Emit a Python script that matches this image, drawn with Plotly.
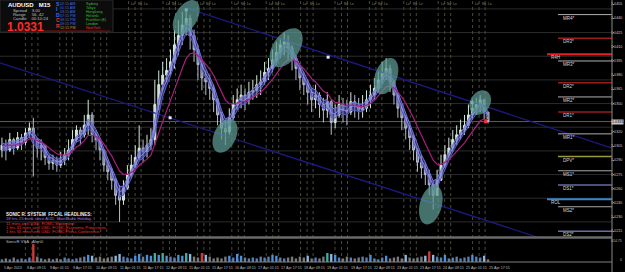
import math
import pandas as pd
import plotly.graph_objects as go

# ---------------- data ----------------
close = [
    1.0306, 1.0301, 1.0312, 1.0303, 1.0314, 1.0309, 1.0319, 1.0324, 1.0312, 1.0303,
    1.0306, 1.0293, 1.0287, 1.0290, 1.0285, 1.0290, 1.0296, 1.0301, 1.0312, 1.0322,
    1.0317, 1.0327, 1.0338, 1.0317, 1.0312, 1.0301, 1.0285, 1.0278, 1.0269, 1.0253,
    1.0248, 1.0261, 1.0275, 1.0285, 1.0293, 1.0303, 1.0299, 1.0306, 1.0312, 1.0349,
    1.0370, 1.0380, 1.0385, 1.0394, 1.0412, 1.0422, 1.0433, 1.0440, 1.0422, 1.0407,
    1.0391, 1.0377, 1.0373, 1.0366, 1.0354, 1.0338, 1.0324, 1.0320, 1.0335, 1.0349,
    1.0354, 1.0359, 1.0354, 1.0362, 1.0364, 1.0370, 1.0373, 1.0383, 1.0387, 1.0396,
    1.0404, 1.0412, 1.0415, 1.0409, 1.0398, 1.0387, 1.0377, 1.0370, 1.0362, 1.0354,
    1.0359, 1.0349, 1.0343, 1.0352, 1.0330, 1.0338, 1.0349, 1.0343, 1.0341, 1.0352,
    1.0348, 1.0343, 1.0345, 1.0354, 1.0359, 1.0366, 1.0375, 1.0383, 1.0387, 1.0373,
    1.0359, 1.0345, 1.0335, 1.0324, 1.0314, 1.0301, 1.0288, 1.0282, 1.0275, 1.0264,
    1.0253, 1.0269, 1.0285, 1.0296, 1.0303, 1.0312, 1.0317, 1.0322, 1.0327, 1.0338,
    1.0345, 1.0349, 1.0354, 1.0341, 1.0331,
]
high = [
    1.0314, 1.0312, 1.0319, 1.0314, 1.0320, 1.0318, 1.0324, 1.0330, 1.0335, 1.0314,
    1.0312, 1.0306, 1.0296, 1.0296, 1.0294, 1.0299, 1.0303, 1.0312, 1.0322, 1.0327,
    1.0325, 1.0338, 1.0354, 1.0341, 1.0322, 1.0314, 1.0301, 1.0290, 1.0282, 1.0271,
    1.0264, 1.0269, 1.0285, 1.0296, 1.0306, 1.0327, 1.0312, 1.0317, 1.0324, 1.0375,
    1.0385, 1.0394, 1.0398, 1.0407, 1.0428, 1.0438, 1.0447, 1.0451, 1.0444, 1.0428,
    1.0412, 1.0396, 1.0385, 1.0380, 1.0370, 1.0356, 1.0341, 1.0333, 1.0345, 1.0359,
    1.0366, 1.0370, 1.0366, 1.0373, 1.0375, 1.0380, 1.0385, 1.0394, 1.0398, 1.0407,
    1.0415, 1.0419, 1.0425, 1.0422, 1.0412, 1.0401, 1.0391, 1.0383, 1.0375, 1.0366,
    1.0370, 1.0362, 1.0356, 1.0362, 1.0354, 1.0349, 1.0359, 1.0356, 1.0354, 1.0362,
    1.0359, 1.0356, 1.0359, 1.0364, 1.0370, 1.0377, 1.0385, 1.0394, 1.0398, 1.0391,
    1.0375, 1.0362, 1.0349, 1.0338, 1.0327, 1.0317, 1.0303, 1.0296, 1.0288, 1.0280,
    1.0269, 1.0280, 1.0296, 1.0306, 1.0314, 1.0322, 1.0327, 1.0333, 1.0338, 1.0349,
    1.0354, 1.0356, 1.0359, 1.0354, 1.0341,
]
low = [
    1.0293, 1.0290, 1.0299, 1.0296, 1.0301, 1.0301, 1.0306, 1.0314, 1.0273, 1.0293,
    1.0290, 1.0285, 1.0280, 1.0280, 1.0278, 1.0282, 1.0285, 1.0290, 1.0301, 1.0309,
    1.0306, 1.0314, 1.0317, 1.0309, 1.0301, 1.0290, 1.0278, 1.0269, 1.0259, 1.0243,
    1.0225, 1.0243, 1.0259, 1.0271, 1.0282, 1.0290, 1.0288, 1.0293, 1.0301, 1.0306,
    1.0343, 1.0364, 1.0373, 1.0380, 1.0387, 1.0401, 1.0412, 1.0422, 1.0407, 1.0394,
    1.0375, 1.0364, 1.0359, 1.0354, 1.0341, 1.0327, 1.0312, 1.0306, 1.0317, 1.0333,
    1.0343, 1.0345, 1.0343, 1.0349, 1.0354, 1.0356, 1.0359, 1.0370, 1.0375, 1.0383,
    1.0391, 1.0398, 1.0401, 1.0396, 1.0385, 1.0375, 1.0364, 1.0359, 1.0349, 1.0341,
    1.0345, 1.0335, 1.0330, 1.0335, 1.0317, 1.0324, 1.0335, 1.0330, 1.0327, 1.0338,
    1.0335, 1.0333, 1.0335, 1.0341, 1.0345, 1.0354, 1.0362, 1.0370, 1.0375, 1.0362,
    1.0349, 1.0335, 1.0322, 1.0312, 1.0301, 1.0290, 1.0278, 1.0271, 1.0264, 1.0253,
    1.0238, 1.0253, 1.0269, 1.0282, 1.0293, 1.0299, 1.0306, 1.0312, 1.0317, 1.0324,
    1.0333, 1.0338, 1.0341, 1.0333, 1.0329,
]
first_open = 1.0301
volume = [
    75, 100, 75, 125, 75, 100, 75, 125, 500, 150,
    100, 75, 100, 75, 100, 75, 125, 100, 75, 100,
    125, 150, 200, 175, 125, 150, 100, 125, 150, 175,
    225, 150, 125, 100, 175, 225, 150, 200, 175, 250,
    200, 250, 175, 150, 125, 200, 175, 250, 225, 150,
    125, 250, 200, 150, 100, 125, 100, 150, 175, 125,
    225, 175, 125, 100, 125, 100, 150, 125, 150, 200,
    175, 125, 100, 125, 150, 100, 150, 125, 175, 100,
    125, 100, 150, 250, 225, 200, 125, 100, 150, 125,
    100, 125, 150, 125, 200, 100, 75, 125, 175, 100,
    125, 150, 100, 200, 125, 100, 125, 150, 175, 300,
    200, 150, 125, 200, 100, 125, 150, 100, 125, 150,
    200, 150, 125, 175, 75,
]
current_price = 1.0331
price_ticks = [1.0215, 1.0230, 1.0245, 1.0260, 1.0275, 1.0290, 1.0305, 1.0320,
               1.0350, 1.0365, 1.0380, 1.0395, 1.0410, 1.0425, 1.0440, 1.0455]
round_levels = [1.0225, 1.0250, 1.0275, 1.0300, 1.0325, 1.0350, 1.0375, 1.0400, 1.0425, 1.0450]
level_names = ["MR4*", "DR3*", "R4H", "MR3*", "DR2*", "MR2*", "DR1*", "MR1*",
               "DPV*", "MS1*", "DS1*", "ROL", "MS2*", "DS2*"]
level_prices = [1.0444, 1.0419, 1.0402, 1.0395, 1.0372, 1.0357, 1.0341, 1.0318,
                1.0294, 1.0279, 1.0264, 1.0249, 1.0241, 1.0215]
channel_upper_x = [47, 155.6]
channel_upper_y = [1.0451, 1.0303]
channel_lower_x = [-0.5, 136.5]
channel_lower_y = [1.0393, 1.0209]
zone_x = [47.0, 56.9, 72.5, 98.0, 109.4, 122.0]
zone_y = [1.0441, 1.0316, 1.0409, 1.0379, 1.0243, 1.0351]
swing_x = [47, 42.9, 83.2, 119.9]
swing_y = [1.0449, 1.0335, 1.0399, 1.0351]
volume_max_label = "614.75"
time_labels = ["5 Apr 2013", "8 Apr 09:15", "9 Apr 01:15", "9 Apr 17:15", "10 Apr 09:15",
               "11 Apr 01:15", "11 Apr 17:15", "12 Apr 09:15", "15 Apr 01:15", "15 Apr 17:15",
               "16 Apr 09:15", "17 Apr 01:15", "17 Apr 17:15", "18 Apr 09:15", "19 Apr 01:15",
               "19 Apr 17:15", "22 Apr 09:15", "23 Apr 01:15", "23 Apr 17:15", "24 Apr 09:15",
               "25 Apr 01:15", "25 Apr 17:15"]
session_times = ["02:15 AM", "01:15 AM", "03:15 AM", "07:15 PM", "08:15 PM", "09:15 PM", "12:15 PM"]
session_names = ["Sydney", "Tokyo", "Hongkong", "Helsinki", "Frankfurt (E)", "London", "NewYork"]
headlines = ["18 hrs 15 mins since AUD  Start Bank Holiday",
             "11 mins until USD  FOMC Statement",
             "1 hrs 41 mins until USD  FOMC Economic Projections",
             "1 hrs 55 mins until USD  FOMC Press Conference"]

# ---------------- geometry helpers ----------------
W, H = 625, 272
PW, PH = 612, 262          # plot area size (px)
PX = 3.92                  # px per candle
X0, X1 = -0.5, PW / PX - 0.5
P_TOP = 1.04594
DP = 0.00010563            # price per px
P_BOT = P_TOP - 237 * DP
FONT = "Liberation Sans"


def px_to_idx(px):
    return px / PX - 0.5


def idx_to_px(i):
    return (i + 0.5) * PX


def paper(x, y):
    return x / PW, 1 - y / PH


N = len(close)
X = list(range(N))
opens = [first_open] + close[:-1]

s_c = pd.Series(close)
s_h = pd.Series(high)
s_l = pd.Series(low)
rib_mid = s_c.ewm(span=3, adjust=False).mean()
rib_hi = ((s_h + 2 * s_c) / 3).ewm(span=3, adjust=False).mean()
rib_lo = ((s_l + 2 * s_c) / 3).ewm(span=3, adjust=False).mean()
slow = s_c.ewm(span=9, adjust=False).mean()

fig = go.Figure()

# channel lines
for cx, cy in ((channel_upper_x, channel_upper_y), (channel_lower_x, channel_lower_y)):
    fig.add_trace(go.Scatter(x=cx, y=cy, mode="lines", line=dict(color="#1a1a80", width=1.3),
                             hoverinfo="skip"))

# dragon ribbon
fig.add_trace(go.Scatter(x=X, y=rib_lo, mode="lines", line=dict(color="#5c5cc8", width=1),
                         hoverinfo="skip"))
fig.add_trace(go.Scatter(x=X, y=rib_hi, mode="lines", fill="tonexty",
                         fillcolor="rgba(80,80,190,0.55)", line=dict(color="#7474dc", width=1),
                         hoverinfo="skip"))
fig.add_trace(go.Scatter(x=X, y=rib_mid, mode="lines", line=dict(color="#9c9cf0", width=0.8),
                         hoverinfo="skip"))

# candles
fig.add_trace(go.Candlestick(
    x=X, open=opens, high=high, low=low, close=close, whiskerwidth=0,
    increasing=dict(line=dict(color="#d4e8da", width=1), fillcolor="#c4e0cc"),
    decreasing=dict(line=dict(color="#b4bccc", width=1), fillcolor="#6e7686"),
    hoverinfo="skip"))

# slow trend line
fig.add_trace(go.Scatter(x=X, y=slow, mode="lines", line=dict(color="#a8207a", width=1.2),
                         hoverinfo="skip"))

# swing markers
fig.add_trace(go.Scatter(x=swing_x, y=swing_y, mode="markers",
                         marker=dict(symbol="square", size=3, color="#e8e8ff"), hoverinfo="skip"))
fig.add_trace(go.Scatter(x=[N - 1.6], y=[current_price], mode="markers",
                         marker=dict(symbol="square", size=3, color="#ff3030"), hoverinfo="skip"))

# volume
vcols = []
for i in range(N):
    up = close[i] >= opens[i]
    if volume[i] >= 250:
        vcols.append("#d03a3a" if not up else "#3ab0a0")
    elif volume[i] >= 175:
        vcols.append("#4f8fd8" if up else "#8fb8d8")
    else:
        vcols.append("#5a7fb0" if up else "#7a7a7a")
fig.add_trace(go.Bar(x=X, y=volume, yaxis="y2", marker=dict(color=vcols, line=dict(width=0)),
                     width=0.6, hoverinfo="skip"))

shapes = []
# round-number grid
for lv in round_levels:
    shapes.append(dict(type="line", xref="paper", x0=0, x1=1, yref="y", y0=lv, y1=lv,
                       line=dict(color="#2c2c2c", width=1), layer="below"))
# bid line
shapes.append(dict(type="line", xref="paper", x0=0, x1=1, yref="y", y0=current_price,
                   y1=current_price, line=dict(color="#5c5c5c", width=1), layer="below"))
# session separators
day_px = 34.4
g = 25.4
while g < 490:
    for off in (0, 6.5, 12.5):
        xx = px_to_idx(g + off)
        shapes.append(dict(type="line", xref="x", x0=xx, x1=xx, yref="paper", y0=0, y1=1,
                           line=dict(color="#4a4a34", width=1, dash="dot"), layer="below"))
    g += day_px

# level lines
level_style = {"MR": ("#b0b0b0", 1), "MS": ("#a8a8a8", 1), "DR": ("#9a1c1c", 1.5),
               "R4": ("#e62020", 2), "DP": ("#9a9a3c", 1.5), "DS": ("#6a6aa8", 1.5),
               "RO": ("#3a86c8", 2)}
for name, lv in zip(level_names, level_prices):
    col, wd = level_style[name[:2]]
    start = px_to_idx(547 if name in ("R4H", "ROL") else 558)
    shapes.append(dict(type="line", xref="x", x0=start, x1=X1, yref="y", y0=lv, y1=lv,
                       line=dict(color=col, width=wd)))

# zones (tilted ellipses)
zone_axes = [(19, 11, 30), (18, 11, 25), (22, 13, 35), (19, 11, 20), (20, 11, 15), (13, 10, 30)]
for (zx, zy), (a, b, ang) in zip(zip(zone_x, zone_y), zone_axes):
    cxp = idx_to_px(zx)
    cyp = (P_TOP - zy) / DP
    th = math.radians(ang)
    pts = []
    for k in range(49):
        t = 2 * math.pi * k / 48
        u, v = b * math.cos(t), a * math.sin(t)
        xp = cxp + u * math.cos(th) + v * math.sin(th)
        yp = cyp + u * math.sin(th) - v * math.cos(th)
        pts.append((px_to_idx(xp), P_TOP - yp * DP))
    path = "M " + " L ".join(f"{p[0]:.3f},{p[1]:.6f}" for p in pts) + " Z"
    shapes.append(dict(type="path", xref="x", yref="y", path=path,
                       fillcolor="rgba(92,152,146,0.74)", line=dict(width=0)))

# panel separators and frames
sep_y = 1 - 237.5 / PH
shapes.append(dict(type="line", xref="paper", x0=0, x1=1, yref="paper", y0=sep_y, y1=sep_y,
                   line=dict(color="#6a6a6a", width=2.5)))
shapes.append(dict(type="line", xref="paper", x0=0, x1=1, yref="paper", y0=0, y1=0,
                   line=dict(color="#808080", width=1)))
shapes.append(dict(type="line", xref="paper", x0=1, x1=1, yref="paper", y0=-10 / PH, y1=1,
                   line=dict(color="#8a8a8a", width=1)))
# info box
bx0, by0 = paper(0, 0)
bx1, by1 = paper(113, 32)
shapes.append(dict(type="rect", xref="paper", yref="paper", x0=bx0, x1=bx1, y0=by1, y1=by0,
                   fillcolor="#0c0c0c", line=dict(color="#2a2a2a", width=1)))
shapes.append(dict(type="line", xref="paper", yref="paper", x0=10 / PW, x1=110 / PW,
                   y0=1 - 31 / PH, y1=1 - 31 / PH, line=dict(color="#7a1010", width=1)))

ann = []


def text(x, y, s, size=4.5, color="#c0c0c0", bold=False, xanchor="left", bg=None):
    xx, yy = paper(x, y)
    d = dict(xref="paper", yref="paper", x=xx, y=yy, text=f"<b>{s}</b>" if bold else s,
             showarrow=False, xanchor=xanchor, yanchor="middle",
             font=dict(family=FONT, size=size, color=color))
    if bg:
        d.update(bgcolor=bg, borderpad=0)
    ann.append(d)


# price-axis labels, placed on the price scale inside the right strip
RIGHT = 624.4 / PW
for v in price_ticks:
    ann.append(dict(xref="paper", yref="y", x=RIGHT, y=v, text=f"{v:.4f}", showarrow=False,
                    xanchor="right", yanchor="middle",
                    font=dict(family=FONT, size=3.7, color="#c8c8c8")))
ann.append(dict(xref="paper", yref="y", x=RIGHT, y=current_price, text=f"{current_price:.4f}",
                showarrow=False, xanchor="right", yanchor="middle", bgcolor="#c8c8c8",
                borderpad=0, font=dict(family=FONT, size=3.7, color="#000000")))
ann.append(dict(xref="paper", yref="y2", x=RIGHT, y=600, text=volume_max_label, showarrow=False,
                xanchor="right", yanchor="middle", font=dict(family=FONT, size=3.5, color="#bdbdbd")))
ann.append(dict(xref="paper", yref="y2", x=RIGHT, y=60, text="0", showarrow=False,
                xanchor="right", yanchor="middle", font=dict(family=FONT, size=3.5, color="#bdbdbd")))

# level labels
for name, lv in zip(level_names, level_prices):
    xs = 549 if name in ("R4H", "ROL") else 561
    yp = (P_TOP - lv) / DP + 3.5
    text(xs, yp, name, size=4.5, color="#d8d8d8")

# session labels at top
g = 25.4
while g < 490:
    if g > 115:
        text(g + 0.5, 4, "Lo", size=3.3, color="#8a8a66")
        text(g + 7, 4, "Ny", size=3.3, color="#8a8a66")
        text(g + 13, 4, "Lo", size=3.3, color="#8a8a66")
    g += day_px

# time axis labels
for k, lab in enumerate(time_labels):
    text(2 + 23.1 * k, 267.5, lab, size=3.7, color="#bdbdbd")

# info box text
text(6, 4.5, "AUDUSD   M15", size=6, color="#ffffff", bold=True)
text(11, 10.5, "Spread    3.00", size=4.3)
text(11, 14.6, "Range     56, 42", size=4.3)
text(11, 18.7, "Candle    00:10:24", size=4.3)
text(5, 26.5, "1.0331", size=12, color="#ff2a2a", bold=True)
for k, (letter, col) in enumerate(zip(["S", "I", "D", "C", "R"],
                                      ["#3a6ee8", "#3a6ee8", "#3a6ee8", "#e83a3a", "#e83a3a"])):
    text(53.5, 4 + 5.5 * k, letter, size=5, color=col, bold=True)
for k, (t, nm) in enumerate(zip(session_times, session_names)):
    last = k == len(session_times) - 1
    text(58, 3.5 + 4.1 * k, t, size=3.6, color="#d08a30" if last else "#4a6ad8")
    text(84, 3.5 + 4.1 * k, nm, size=3.6, color="#e83030" if last else "#3cbf3c")

# headlines
text(4, 214, "SONIC R. SYSTEM  FFCAL HEADLINES:", size=4.5, color="#f0f0f0", bold=True)
for k, h in enumerate(headlines):
    text(4, 218.7 + 4.4 * k, h, size=4.2, color="#b070e0" if k == 0 else "#e83030")
text(4, 241, "SonicR VSA   Alert0", size=4.2, color="#bdbdbd")

fig.update_layout(
    width=W, height=H, margin=dict(l=0, r=13, t=0, b=10, pad=0),
    paper_bgcolor="#000000", plot_bgcolor="#000000", showlegend=False,
    xaxis=dict(range=[X0, X1], showgrid=False, zeroline=False, showticklabels=False,
               rangeslider=dict(visible=False), automargin=False, fixedrange=True),
    yaxis=dict(domain=[1 - 237 / PH, 1], range=[P_BOT, P_TOP], side="right",
               tickvals=price_ticks, showticklabels=False, ticks="outside",
               ticklen=1, tickcolor="#8a8a8a", showgrid=False, zeroline=False,
               automargin=False),
    yaxis2=dict(domain=[0, 1 - 240 / PH], range=[0, 615], showgrid=False, zeroline=False,
                showticklabels=False, anchor="x", automargin=False),
    shapes=shapes, annotations=ann, bargap=0.3,
)
fig.write_html("out.html")
